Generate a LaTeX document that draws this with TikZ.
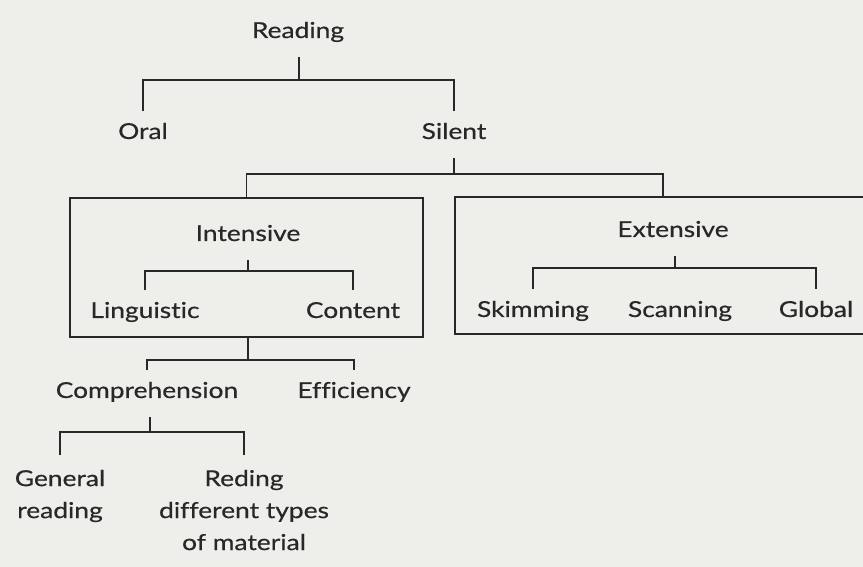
\documentclass[tikz,border=0pt]{standalone}
\usepackage{fontspec}
\setmainfont[FakeStretch=1.2, FakeBold=0.5, Ligatures=NoCommon]{Lato}
\definecolor{paper}{RGB}{238,238,234}
\definecolor{ink}{RGB}{40,40,40}
\tikzset{
  lbl/.style={anchor=base, inner sep=0pt, outer xsep=0pt, outer ysep=8.5pt,
    text height=0.72em, text depth=0.25em, text=ink,
    font=\fontsize{12.5}{18.2}\selectfont},
  multi/.style={anchor=north, align=center, inner sep=0pt, outer ysep=8.5pt, text=ink,
    font=\fontsize{12.5}{18.2}\selectfont},
  line/.style={draw=ink, line width=0.95pt},
  frame/.style={draw=ink, line width=0.95pt, inner sep=0pt, outer sep=0pt}
}
\begin{document}
\begin{tikzpicture}[x=0.02cm, y=-0.02cm]
    \fill [paper] (0,0) rectangle (863,567);
    \useasboundingbox (0,0) rectangle (863,567);
    \clip (0,0) rectangle (863,567);
    % boxes
    \node [frame, minimum width=7.06cm, minimum height=2.78cm] (intbox) at (246.5,267.5) {};
    \node [frame, minimum width=8.32cm, minimum height=2.74cm] (extbox) at (663,265.5) {};
    % labels
    \node [lbl] (reading) at (298,38) {Reading};
    \node [lbl] (oral) at (143,139) {Oral};
    \node [lbl] (silent) at (454,139) {Silent};
    \node [lbl] (intensive) at (248,241) {Intensive};
    \node [lbl] (linguistic) at (145,318) {Linguistic};
    \node [lbl] (content) at (353,318) {Content};
    \node [lbl] (extensive) at (673,237) {Extensive};
    \node [lbl] (skimming) at (533,317) {Skimming};
    \node [lbl] (scanning) at (680,317) {Scanning};
    \node [lbl] (global) at (816,317) {Global};
    \node [lbl] (comprehension) at (147,398) {Comprehension};
    \node [lbl] (efficiency) at (354,398) {Efficiency};
    \node [multi] (general) at (60,455) {General\\reading};
    \node [multi] (reding) at (244,455) {Reding\\different types\\of material};
    % forks
    \coordinate (rfork) at (299,80);
    \coordinate (sfork) at (454,174);
    \coordinate (ifork) at (248,271);
    \coordinate (bfork) at (248,360);
    \coordinate (efork) at (675,268);
    \coordinate (cfork) at (150,432);
    \draw [line] (rfork |- reading.south) -- (rfork);
    \draw [line] (oral.north) |- (rfork) -| (silent.north);
    \draw [line] (sfork |- silent.south) -- (sfork);
    \draw [line] (intbox.north) |- (sfork) -| (extbox.north);
    \draw [line] (ifork |- intensive.south) -- (ifork);
    \draw [line] (linguistic.north) |- (ifork) -| (content.north);
    \draw [line] (bfork |- intbox.south) -- (bfork);
    \draw [line] (comprehension.north) |- (bfork) -| (efficiency.north);
    \draw [line] (efork |- extensive.south) -- (efork);
    \draw [line] (skimming.north) |- (efork) -| (global.north);
    \draw [line] (cfork |- comprehension.south) -- (cfork);
    \draw [line] (general.north) |- (cfork) -| (reding.north);
\end{tikzpicture}
\end{document}
